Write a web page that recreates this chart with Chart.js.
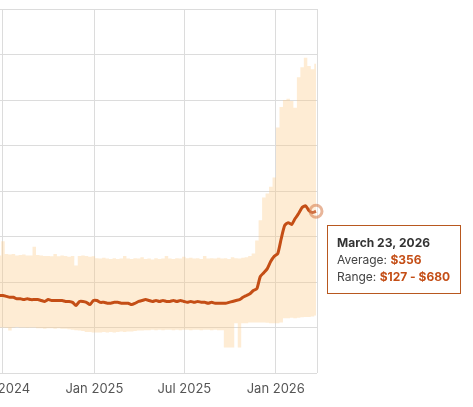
<!DOCTYPE html>
<html>
<head>
<meta charset="utf-8">
<script src="https://cdn.jsdelivr.net/npm/chart.js@4/dist/chart.umd.min.js"></script>
<style>
  html, body { margin: 0; padding: 0; background: #fff; overflow: hidden; }
  #wrap { position: absolute; left: -40px; top: 0; width: 513px; height: 407px; }
</style>
</head>
<body>
<div id="wrap"><canvas id="chart"></canvas></div>
<script>
// weekly price samples
const dates = [
  '2024-06-24','2024-07-01','2024-07-08','2024-07-15','2024-07-22','2024-07-29',
  '2024-08-05','2024-08-12','2024-08-19','2024-08-26',
  '2024-09-02','2024-09-09','2024-09-16','2024-09-23','2024-09-30',
  '2024-10-07','2024-10-14','2024-10-21','2024-10-28',
  '2024-11-04','2024-11-11','2024-11-18','2024-11-25',
  '2024-12-02','2024-12-09','2024-12-16','2024-12-23','2024-12-30',
  '2025-01-06','2025-01-13','2025-01-20','2025-01-27',
  '2025-02-03','2025-02-10','2025-02-17','2025-02-24',
  '2025-03-03','2025-03-10','2025-03-17','2025-03-24','2025-03-31',
  '2025-04-07','2025-04-14','2025-04-21','2025-04-28',
  '2025-05-05','2025-05-12','2025-05-19','2025-05-26',
  '2025-06-02','2025-06-09','2025-06-16','2025-06-23','2025-06-30',
  '2025-07-07','2025-07-14','2025-07-21','2025-07-28',
  '2025-08-04','2025-08-11','2025-08-18','2025-08-25',
  '2025-09-01','2025-09-08','2025-09-15','2025-09-22','2025-09-29',
  '2025-10-06','2025-10-13','2025-10-20','2025-10-27',
  '2025-11-03','2025-11-10','2025-11-17','2025-11-24',
  '2025-12-01','2025-12-08','2025-12-15','2025-12-22','2025-12-29',
  '2026-01-05','2026-01-12','2026-01-19','2026-01-26',
  '2026-02-02','2026-02-09','2026-02-16','2026-02-23',
  '2026-03-02','2026-03-09','2026-03-16','2026-03-23'
];

const avgPrice = [
  171,171,169,167,167,164, 164,162,164,162, 162,162,160,158,162, 160,160,160,160,
  158,158,156,149, 158,158,156,151,160,
  160,156,156,154, 154,156,156,154, 154,154,151,154,158, 160,162,160,158,
  160,158,160,158, 158,160,158,160,158, 156,158,156,158, 156,156,154,156,
  154,154,154,154,156, 158,160,162,167, 171,175,182,186, 213,221,230,246,257,
  263,296,325,331, 327,340,351,364, 368,357,353,356
];

const highPrice = [
  259,290,262,261,262,259, 260,261,259,259, 278,260,259,258,258, 257,262,257,259,
  258,256,258,237, 258,259,258,256,257,
  253,252,254,252, 251,253,251,252, 258,252,251,253,252, 255,251,252,250,
  253,251,252,258, 252,251,253,252,256, 253,254,252,253, 251,258,252,253,
  252,254,252,253,251, 255,253,252,254, 255,258,263,292, 336,386,395,410,430,
  540,585,600,603, 598,583,650,672, 693,675,668,680
];

const lowPrice = [
  101,101,100,94,101,102, 101,101,100,101, 101,99,99,98,99, 99,98,99,98,
  98,97,96,95, 94,93,91,91,90,
  90,90,91,90, 91,90,91,92, 91,92,92,93,94, 94,95,95,96,
  95,96,95,96, 96,95,96,95,96, 96,95,96,96, 95,96,96,95,
  96,95,95,57,57, 57,110,57,110, 110,112,112,112, 112,112,111,110,110,
  110,112,121,121, 122,121,122,123, 124,124,125,127
];

const xTickDates = ['2024-07-01', '2025-01-01', '2025-07-01', '2026-01-01'];
const xTickLabels = ['Jul 2024', 'Jan 2025', 'Jul 2025', 'Jan 2026'];
const xMinDate = '2024-06-25';
const xMaxDate = '2026-03-25';

const monthNames = ['January','February','March','April','May','June','July',
  'August','September','October','November','December'];

const day = s => Date.parse(s) / 86400000;
const pts = arr => arr.map((v, i) => ({ x: day(dates[i]), y: v }));
const last = dates.length - 1;

const lineColor = 'rgb(196, 78, 22)';
const bandColor = 'rgba(252, 201, 135, 0.36)';

// tooltip-like box for the last point
const tipBox = {
  id: 'tipBox',
  afterDraw(chart) {
    const pt = chart.getDatasetMeta(0).data[last];
    const ctx = chart.ctx;
    const d = new Date(dates[last] + 'T00:00:00Z');
    const title = monthNames[d.getUTCMonth()] + ' ' + d.getUTCDate() + ', ' + d.getUTCFullYear();
    const rows = [
      ['Average: ', '$' + avgPrice[last]],
      ['Range: ', '$' + lowPrice[last] + ' - $' + highPrice[last]]
    ];
    const reg = '12px Inter, sans-serif';
    const bold = 'bold 12px Inter, sans-serif';
    ctx.save();
    ctx.font = bold;
    let w = ctx.measureText(title).width;
    rows.forEach(r => {
      ctx.font = reg;
      const a = ctx.measureText(r[0]).width;
      ctx.font = bold;
      w = Math.max(w, a + ctx.measureText(r[1]).width);
    });
    const x0 = Math.round(pt.x + 11), y0 = Math.round(pt.y + 14);
    const bw = Math.round(w + 20), bh = 68;
    ctx.fillStyle = '#fff';
    ctx.fillRect(x0, y0, bw, bh);
    ctx.strokeStyle = '#b8581f';
    ctx.lineWidth = 1;
    ctx.strokeRect(x0 + 0.5, y0 + 0.5, bw, bh);
    ctx.textBaseline = 'middle';
    ctx.font = bold;
    ctx.fillStyle = '#333';
    ctx.fillText(title, x0 + 10, y0 + 18);
    rows.forEach((r, i) => {
      const yy = y0 + 35 + i * 17;
      ctx.font = reg;
      ctx.fillStyle = '#444';
      ctx.fillText(r[0], x0 + 10, yy);
      const a = ctx.measureText(r[0]).width;
      ctx.font = bold;
      ctx.fillStyle = lineColor;
      ctx.fillText(r[1], x0 + 10 + a, yy);
    });
    ctx.restore();
  }
};

new Chart(document.getElementById('chart'), {
  type: 'line',
  data: {
    datasets: [
      {
        label: 'Average',
        data: pts(avgPrice),
        borderColor: lineColor,
        borderWidth: 3,
        borderJoinStyle: 'round',
        tension: 0.2,
        fill: false,
        clip: false,
        pointRadius: c => c.dataIndex === last ? 6 : 0,
        pointBorderWidth: 3,
        pointBorderColor: 'rgba(214, 120, 70, 0.55)',
        pointBackgroundColor: 'rgba(255, 255, 255, 0.2)'
      },
      {
        label: 'High',
        data: pts(highPrice),
        borderWidth: 0,
        pointRadius: 0,
        stepped: 'middle',
        backgroundColor: bandColor,
        fill: '+1'
      },
      {
        label: 'Low',
        data: pts(lowPrice),
        borderWidth: 0,
        pointRadius: 0,
        stepped: 'middle',
        fill: false
      }
    ]
  },
  options: {
    responsive: true,
    maintainAspectRatio: false,
    animation: false,
    events: [],
    layout: { padding: { left: 40, right: 156, top: 8, bottom: 2 } },
    scales: {
      x: {
        type: 'linear',
        min: day(xMinDate),
        max: day(xMaxDate),
        afterBuildTicks: axis => {
          axis.ticks = xTickDates.map(s => ({ value: day(s) }))
            .concat([{ value: day(xMaxDate) }]);
        },
        ticks: {
          autoSkip: false,
          maxRotation: 0,
          padding: 8,
          color: '#555',
          font: { family: 'Inter, sans-serif', size: 13 },
          callback: v => {
            const i = xTickDates.findIndex(s => day(s) === v);
            return i >= 0 ? xTickLabels[i] : '';
          }
        },
        grid: { color: '#dcdcdc', drawTicks: false },
        border: { display: false }
      },
      y: {
        min: 0,
        max: 800,
        ticks: { display: false, stepSize: 100 },
        grid: { color: '#dcdcdc', drawTicks: false },
        border: { display: false }
      }
    },
    plugins: {
      legend: { display: false },
      tooltip: { enabled: false }
    }
  },
  plugins: [tipBox]
});
</script>
</body>
</html>
